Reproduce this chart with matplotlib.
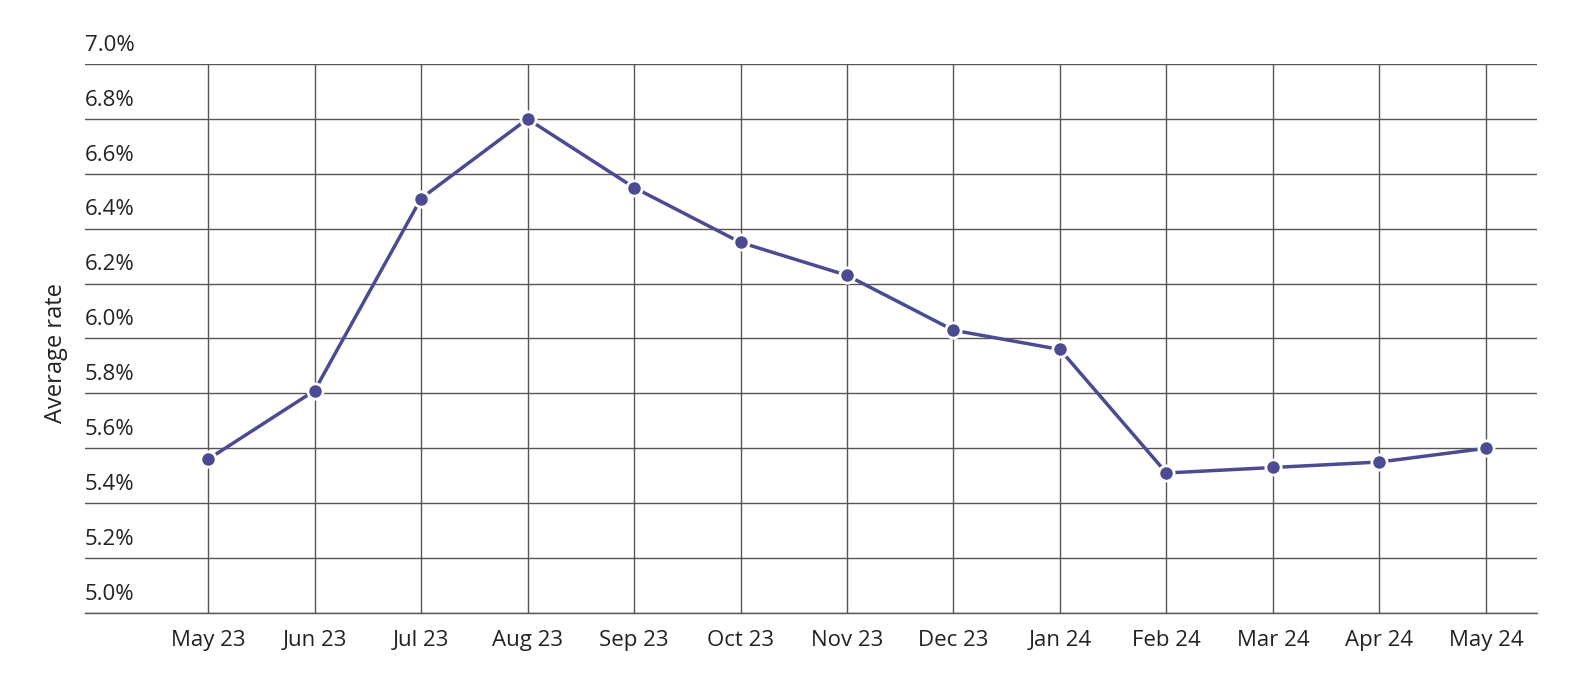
import matplotlib
matplotlib.use("Agg")
import matplotlib.pyplot as plt

months = ["May 23", "Jun 23", "Jul 23", "Aug 23", "Sep 23", "Oct 23", "Nov 23",
          "Dec 23", "Jan 24", "Feb 24", "Mar 24", "Apr 24", "May 24"]
rates = [5.56, 5.81, 6.51, 6.80, 6.55, 6.35, 6.23, 6.03, 5.96, 5.51, 5.53, 5.55, 5.60]
yticks = [5.0, 5.2, 5.4, 5.6, 5.8, 6.0, 6.2, 6.4, 6.6, 6.8, 7.0]

LINE = "#4b4b93"
TEXT = "#222222"
plt.rcParams["font.family"] = ["Open Sans", "DejaVu Sans"]

fig = plt.figure(figsize=(15.9, 6.92), dpi=100)
ax = fig.add_axes([0.0535, 0.1142, 0.9132, 0.7933])
x = list(range(len(months)))
ax.plot(x, rates, color=LINE, lw=2.5, marker="o", ms=11,
        markerfacecolor=LINE, markeredgecolor="white", markeredgewidth=2, zorder=3)

ax.set_xlim(-1.155, 12.48)
ax.set_ylim(5.0, 7.0)
ax.set_xticks(x, labels=months)
ax.set_yticks(yticks, labels=[])
ax.tick_params(axis="x", length=0, pad=12, labelsize=16, labelcolor=TEXT)
ax.tick_params(axis="y", length=0)
ax.grid(True, color="#555555", lw=1)
for s in ax.spines.values():
    s.set_visible(False)
ax.axhline(5.0, color="#555555", lw=1, clip_on=False)
for v in yticks:
    ax.text(0.0, v + 0.03, f"{v:.1f}%", transform=ax.get_yaxis_transform(),
            ha="left", va="bottom", fontsize=16, color=TEXT)
fig.text(0.035, 0.49, "Average rate", rotation=90, ha="center", va="center",
         fontsize=17, color=TEXT)
fig.savefig("out.png", dpi=100)
